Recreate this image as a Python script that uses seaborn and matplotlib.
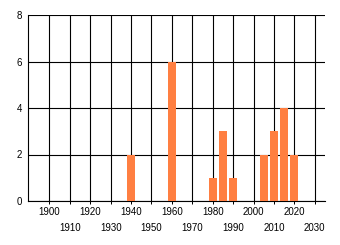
import matplotlib
matplotlib.use("Agg")
import matplotlib.pyplot as plt
import seaborn as sns
import numpy as np

years = [1940, 1960, 1980, 1985, 1990, 2005, 2010, 2015, 2020]
counts = [2, 6, 1, 3, 1, 2, 3, 4, 2]
major_ticks = [1900, 1920, 1940, 1960, 1980, 2000, 2020]
minor_ticks = [1910, 1930, 1950, 1970, 1990, 2010, 2030]
y_ticks = [0, 2, 4, 6, 8]

sns.set_style("white")
plt.rcParams['font.family'] = ['Liberation Sans', 'DejaVu Sans']

fig = plt.figure(figsize=(3.4, 2.45), dpi=100)
ax = fig.add_axes([28/340, 1-201/245, (325-28)/340, (201-15)/245])

sns.barplot(x=years, y=counts, native_scale=True, color="#FF7F41",
            saturation=1, width=0.8, ax=ax, zorder=3,
            linewidth=0, edgecolor="none")

ax.set_xlim(1889.5, 2035)
ax.set_ylim(0, 8)
ax.set_xticks(major_ticks)
ax.set_xticks(minor_ticks, minor=True)
ax.set_xticklabels([str(t) for t in major_ticks])
ax.set_xticklabels([str(t) for t in minor_ticks], minor=True)
ax.set_yticks(y_ticks)
ax.set_yticklabels([str(t) for t in y_ticks])

ax.tick_params(axis='x', which='major', length=2, width=0.72, pad=2,
               labelsize=7, colors='black', bottom=True)
ax.tick_params(axis='x', which='minor', length=2, width=0.72, pad=13.5,
               labelsize=7, colors='black', bottom=True)
ax.tick_params(axis='y', length=0, pad=4.5, labelsize=7, colors='black')

ax.set_axisbelow(True)
ax.grid(True, which='both', axis='x', color='black', linewidth=0.8)
ax.grid(True, which='major', axis='y', color='black', linewidth=0.8)

for side in ['top', 'right']:
    ax.spines[side].set_visible(False)
for side in ['left', 'bottom']:
    ax.spines[side].set_color('black')
    ax.spines[side].set_linewidth(0.8)

ax.set_xlabel("")
ax.set_ylabel("")

fig.savefig("out.png", dpi=100)
